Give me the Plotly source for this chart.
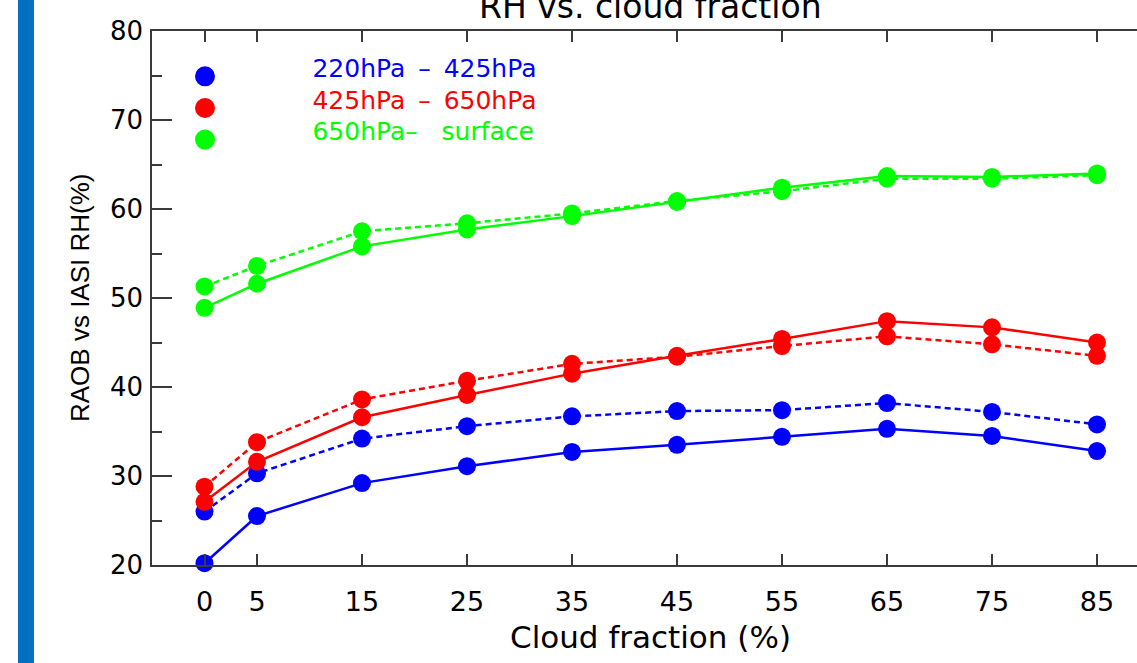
import plotly.graph_objects as go

# ---------------- data ----------------
cloud_fraction = [0, 5, 15, 25, 35, 45, 55, 65, 75, 85]
x_tick_labels = ["0", "5", "15", "25", "35", "45", "55", "65", "75", "85"]
y_tick_values = [20, 30, 40, 50, 60, 70, 80]

upper_solid = [20.2, 25.5, 29.2, 31.1, 32.7, 33.5, 34.4, 35.3, 34.5, 32.8]
upper_dashed = [26.0, 30.3, 34.2, 35.6, 36.7, 37.3, 37.4, 38.2, 37.2, 35.8]
middle_solid = [27.1, 31.6, 36.6, 39.1, 41.5, 43.5, 45.4, 47.4, 46.7, 45.0]
middle_dashed = [28.8, 33.8, 38.6, 40.7, 42.6, 43.4, 44.6, 45.7, 44.8, 43.5]
lower_solid = [48.9, 51.6, 55.8, 57.7, 59.2, 60.8, 62.4, 63.7, 63.6, 64.0]
lower_dashed = [51.3, 53.6, 57.5, 58.4, 59.5, 60.9, 62.0, 63.4, 63.4, 63.8]

NB = "\u00a0"
layer_labels = [
    f"220hPa{NB}\u2009–{NB}\u2009425hPa",
    f"425hPa{NB}\u2009–{NB}\u2009650hPa",
    f"650hPa–{NB}{NB}{NB}surface",
]
layer_colors = ["#0000ff", "#ff0000", "#00ff00"]

series = [
    (upper_solid, 0, "solid"),
    (upper_dashed, 0, "dashed"),
    (middle_solid, 1, "solid"),
    (middle_dashed, 1, "dashed"),
    (lower_solid, 2, "solid"),
    (lower_dashed, 2, "dashed"),
]

# ---------------- figure ----------------
W, H = 1137, 663
L, R, T, B = 152, 0, 31, 98
AX = "#3a3a3a"
TICKFONT = "DejaVu Sans"

fig = go.Figure()

for vals, ci, style in series:
    fig.add_trace(go.Scatter(
        x=cloud_fraction, y=vals, mode="lines+markers",
        line=dict(color=layer_colors[ci], width=2.5,
                  dash="solid" if style == "solid" else "6px,4px"),
        marker=dict(size=18, color=layer_colors[ci]),
        showlegend=False, cliponaxis=False, hoverinfo="x+y",
    ))

pad = NB * 11
for lab, col in zip(layer_labels, layer_colors):
    fig.add_trace(go.Scatter(
        x=[None], y=[None], mode="markers",
        marker=dict(size=16, color=col, line=dict(color=col, width=4)),
        name=(f'<span style="color:{col};font-size:25px;baseline-shift:8px">'
              f'{pad}{lab}</span>'),
        showlegend=True,
    ))

fig.update_layout(
    width=W, height=H,
    margin=dict(l=L, r=R, t=T, b=B, pad=0),
    paper_bgcolor="white", plot_bgcolor="white",
    showlegend=True,
    legend=dict(x=0.0335, y=0.954, xanchor="left", yanchor="top",
                bgcolor="rgba(0,0,0,0)", borderwidth=0,
                font=dict(family=TICKFONT, size=22, color="black"),
                tracegroupgap=0),
    xaxis=dict(
        range=[-5, (W - L - R) / 10.5 - 5.0],
        tickvals=cloud_fraction, ticktext=x_tick_labels,
        ticks="inside", ticklen=11, tickwidth=1.5, tickcolor=AX,
        showline=True, linecolor=AX, linewidth=1.5, mirror="ticks",
        showgrid=False, zeroline=False,
        tickfont=dict(family=TICKFONT, size=27, color="black"),
        ticklabelstandoff=12,
    ),
    yaxis=dict(
        range=[20, 80], tickvals=y_tick_values,
        ticks="inside", ticklen=20, tickwidth=1.5, tickcolor=AX,
        minor=dict(dtick=5, tick0=0, ticks="inside", ticklen=10,
                   tickwidth=1.5, tickcolor=AX, showgrid=False),
        showline=True, linecolor=AX, linewidth=1.5, mirror=False,
        showgrid=False, zeroline=False,
        tickfont=dict(family=TICKFONT, size=26, color="black"),
        ticklabelstandoff=2,
    ),
    yaxis2=dict(
        overlaying="y", side="right", anchor="x",
        range=[20, 80], tickvals=y_tick_values,
        ticks="inside", ticklen=7, tickwidth=1.5, tickcolor=AX,
        showticklabels=False, showline=False, showgrid=False, zeroline=False,
    ),
)

plot_w = W - L - R
plot_h = H - T - B

def px_x(px):
    return (px - L) / plot_w

def px_y(py):
    return (H - B - py) / plot_h

# decorative vertical bar on the left
fig.add_shape(type="rect", xref="paper", yref="paper",
              x0=px_x(18), x1=px_x(34), y0=px_y(H + 5), y1=px_y(-5),
              fillcolor="#0070c0", line=dict(width=0), layer="above")

# titles
fig.add_annotation(text="RH vs. cloud fraction", xref="x", yref="paper",
                   x=42.5, y=px_y(6), xanchor="center", yanchor="middle",
                   showarrow=False,
                   font=dict(family=TICKFONT, size=33, color="black"))
fig.add_annotation(text="Cloud fraction (%)", xref="x", yref="paper",
                   x=42.5, y=px_y(637), xanchor="center", yanchor="middle",
                   showarrow=False,
                   font=dict(family=TICKFONT, size=31, color="black"))
fig.add_annotation(text="RAOB vs IASI RH(%)", xref="paper", yref="paper",
                   x=px_x(80), y=0.5, xanchor="center", yanchor="middle",
                   textangle=-90, showarrow=False,
                   font=dict(family="Liberation Sans", size=26, color="black"))

fig.write_html(
    "out.html",
    config={"displayModeBar": False},
    post_script="document.body.style.margin='0';"
                "document.body.style.overflow='hidden';",
)
